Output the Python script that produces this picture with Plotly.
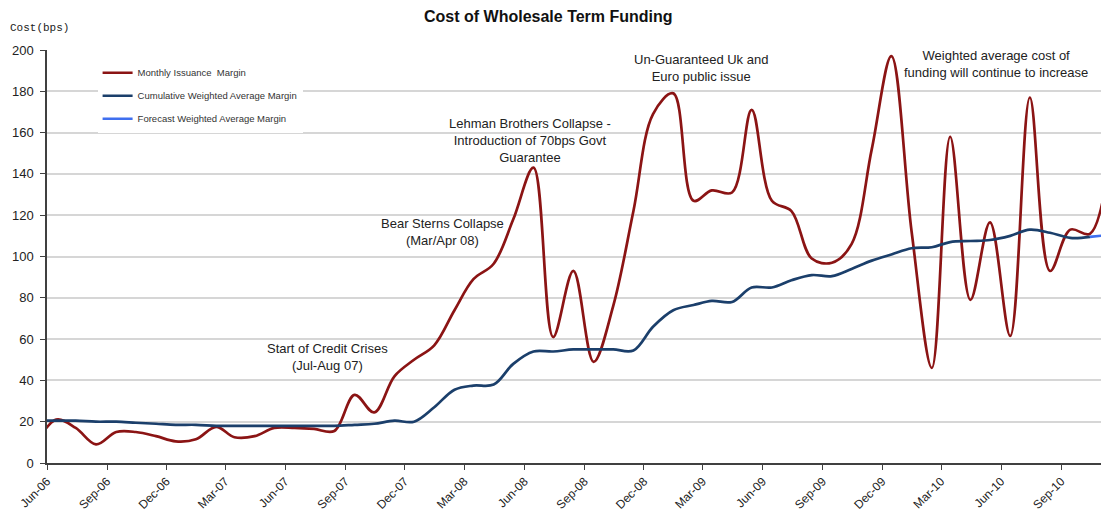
import pandas as pd
import plotly.graph_objects as go

# ---- data (mid-month observations) ----
months = pd.date_range("2006-05-01", "2010-11-01", freq="MS") + pd.Timedelta(days=14)

monthly_margin = [9, 21, 17, 9, 15, 15, 13, 10.5, 11.5, 17.5, 12.5, 13, 17, 17, 16.5, 15.5,
                  33, 24.5, 42, 50, 57, 74, 89, 96.5, 118, 143, 61, 93, 49, 76, 122, 169,
                  179, 127, 132, 131, 171, 127, 122, 99, 97, 106, 152, 197, 112, 46, 158,
                  79, 116.5, 61.5, 177, 93, 113, 111, 150]

cumulative_margin = [20.5, 20.5, 20.5, 20, 20, 19.5, 19, 18.5, 18.5, 18, 18, 18, 18, 18, 18, 18,
                     18.5, 19, 20.5, 20, 27, 35.5, 37.5, 38, 48, 54, 54, 55, 55, 55, 54.5, 66,
                     74, 76.5, 78.5, 78, 85, 85, 88.5, 91, 90.5, 94, 98, 101, 104, 104.5, 107,
                     107.5, 108, 110, 113, 111.5, 109, 109.5, None]

forecast_margin = [None] * 53 + [109.5, 110.5]

tick_start = "2006-06-01"
y_ticks = [0, 20, 40, 60, 80, 100, 120, 140, 160, 180, 200]

notes = [
    ("2007-08-04", 51.3, "Start of Credit Crises<br>(Jul-Aug 07)"),
    ("2008-01-27", 112, "Bear Sterns Collapse<br>(Mar/Apr 08)"),
    ("2008-06-10", 156.4, "Lehman Brothers Collapse -<br>Introduction of 70bps Govt<br>Guarantee"),
    ("2009-02-27", 191.5, "Un-Guaranteed Uk and<br>Euro public issue"),
    ("2010-05-24", 193, "Weighted average cost of<br>funding will continue to increase"),
]

FONT = "Arial, 'Liberation Sans', sans-serif"

fig = go.Figure()
fig.add_trace(go.Scatter(x=months, y=monthly_margin, mode="lines", name="Monthly Issuance  Margin",
                         line=dict(color="#8B1414", width=2.7, shape="spline", smoothing=1),
                         legendgroup="a"))
fig.add_trace(go.Scatter(x=months, y=cumulative_margin, mode="lines", name="Cumulative Weighted Average Margin",
                         line=dict(color="#1B3F6B", width=2.7, shape="spline", smoothing=1),
                         legendgroup="b"))
fig.add_trace(go.Scatter(x=months, y=forecast_margin, mode="lines", name="Forecast Weighted Average Margin",
                         line=dict(color="#3F6FEF", width=2.7, shape="spline", smoothing=1),
                         legendgroup="c"))

for x, y, t in notes:
    fig.add_annotation(x=x, y=y, xref="x", yref="y", text=t, showarrow=False,
                       font=dict(family=FONT, size=13, color="#222222"), align="center")

fig.add_annotation(xref="paper", yref="paper", x=(8 - 47) / 1054, y=(463 - 28) / 413,
                   xanchor="left", yanchor="middle", text="Cost(bps)", showarrow=False,
                   font=dict(family="'Liberation Mono', 'Courier New', monospace", size=11,
                             color="#222222"))

fig.update_layout(
    width=1101, height=518,
    margin=dict(l=47, r=0, t=50, b=55, autoexpand=False),
    paper_bgcolor="white", plot_bgcolor="white",
    title=dict(text="<b>Cost of Wholesale Term Funding</b>", x=0.498, xanchor="center",
               y=1 - 16 / 518, yanchor="middle", yref="container", automargin=False,
               font=dict(family=FONT, size=16, color="#111111")),
    legend=dict(x=0.048, y=0.98, xanchor="left", yanchor="top", bgcolor="white",
                font=dict(family=FONT, size=9.5, color="#333333"), tracegroupgap=4,
                itemwidth=30),
    showlegend=True,
)

fig.update_xaxes(type="date", range=["2006-06-01", "2010-11-01"], tick0=tick_start, dtick="M3",
                 tickformat="%b-%y", tickangle=-45, ticks="outside", ticklen=5,
                 tickcolor="#404040", showline=True, linecolor="#404040", linewidth=1.5,
                 showgrid=False, zeroline=False, automargin=False,
                 tickfont=dict(family=FONT, size=12, color="#222222"))
fig.update_yaxes(range=[0, 200], tickvals=y_ticks, ticks="outside", ticklen=5,
                 tickcolor="#404040", showline=True, linecolor="#404040", linewidth=1.5,
                 showgrid=True, gridcolor="#D6D6D6", gridwidth=1.5, zeroline=False,
                 automargin=False, ticklabelstandoff=4,
                 tickfont=dict(family=FONT, size=13, color="#222222"))

fig.write_html("out.html", config={"displayModeBar": False},
               post_script="document.body.style.margin='0';document.body.style.overflow='hidden';")
